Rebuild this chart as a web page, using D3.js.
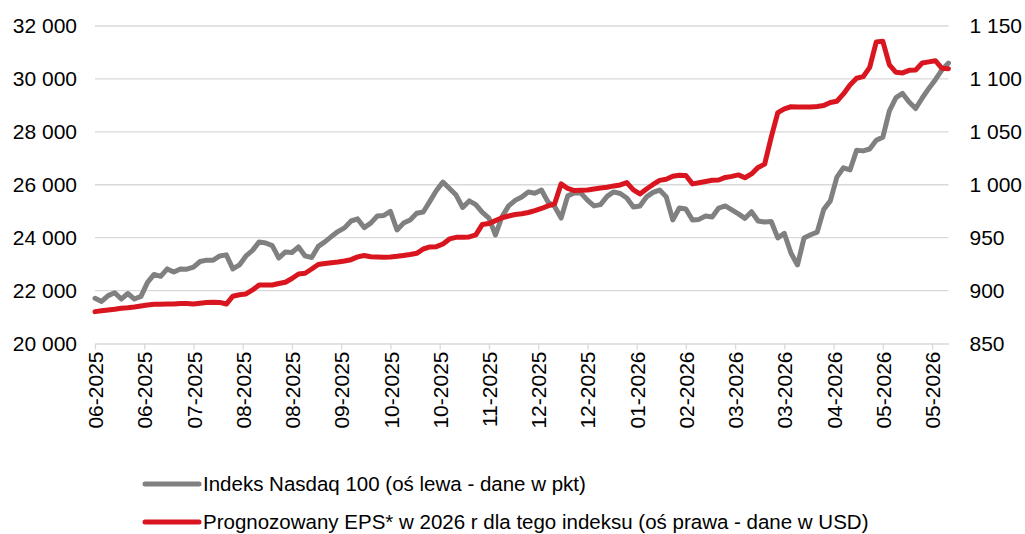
<!DOCTYPE html>
<html>
<head>
<meta charset="utf-8">
<script src="https://cdn.jsdelivr.net/npm/d3@7"></script>
<style>
    body { margin: 0; background: #fff; }
    svg { display: block; font-family: "Liberation Sans", Arial, sans-serif; }
</style>
</head>
<body>
<div id="chart"></div>
<script>
// Category axis labels (one every 15 sessions)
const tickLabels = [
    '06-2025', '06-2025', '07-2025', '08-2025', '08-2025', '09-2025',
    '10-2025', '10-2025', '11-2025', '12-2025', '12-2025', '01-2026',
    '02-2026', '03-2026', '03-2026', '04-2026', '05-2026', '05-2026'
];
const TICK_EVERY = 15;   // sessions between labels
const STEP = 2;          // sessions between stored values
const SESSIONS = 260;

// Nasdaq 100 index (left axis, pts), one value every 2 sessions
const nasdaq = [
    21710, 21590, 21810, 21920, 21680, 21890, 21680, 21780, 22310, 22610,
    22540, 22820, 22700, 22820, 22810, 22890, 23100, 23150, 23150, 23310,
    23350, 22820, 22970, 23310, 23520, 23840, 23800, 23700, 23230, 23460,
    23440, 23650, 23310, 23250, 23670, 23840, 24040, 24230, 24370, 24630,
    24710, 24380, 24550, 24820, 24840, 24990, 24290, 24550, 24670, 24920,
    24970, 25370, 25780, 26100, 25860, 25610, 25140, 25390, 25250, 24960,
    24740, 24100, 24800, 25200, 25410, 25540, 25730, 25680, 25800, 25350,
    25180, 24740, 25580, 25690, 25690, 25420, 25200, 25250, 25560, 25730,
    25670, 25500, 25160, 25200, 25540, 25710, 25800, 25550, 24670, 25120,
    25080, 24670, 24690, 24820, 24780, 25120, 25200, 25050, 24900, 24730,
    24980, 24630, 24590, 24610, 23990, 24160, 23420, 22970, 23990, 24110,
    24210, 25070, 25390, 26290, 26640, 26560, 27300, 27280, 27350, 27680,
    27800, 28790, 29290, 29450, 29130, 28880, 29280, 29640, 29970, 30340, 30600
];

// Forecast 2026 EPS (right axis, USD), same sampling
const eps = [
    880.1, 880.9, 881.7, 882.4, 883.3, 883.8, 884.5, 885.4, 886.4, 887.0,
    887.2, 887.3, 887.4, 887.7, 887.9, 887.4, 888.0, 888.7, 889.0, 888.8,
    887.3, 894.7, 896.1, 896.8, 900.6, 905.3, 905.3, 905.3, 906.7, 907.9,
    911.4, 915.7, 916.4, 920.4, 924.7, 925.6, 926.3, 927.0, 928.0, 929.2,
    931.8, 933.2, 932.0, 931.8, 931.6, 931.8, 932.4, 933.2, 934.1, 935.2,
    939.3, 941.2, 941.5, 944.0, 948.8, 950.3, 950.4, 950.7, 952.6, 962.5,
    963.4, 966.1, 968.8, 970.5, 971.9, 972.6, 973.8, 975.6, 977.6, 980.0,
    981.9, 1000.8, 996.5, 994.5, 994.8, 995.1, 996.0, 997.0, 997.6, 998.9,
    999.8, 1002.0, 995.1, 991.3, 996.0, 1000.3, 1004.1, 1005.2, 1008.0, 1008.9,
    1008.8, 1000.8, 1001.9, 1003.1, 1004.3, 1004.5, 1006.9, 1007.9, 1009.3, 1006.6,
    1010.2, 1016.4, 1019.5, 1045.0, 1068.1, 1071.7, 1073.7, 1073.5, 1073.4, 1073.5,
    1074.0, 1074.8, 1077.7, 1078.9, 1085.8, 1094.3, 1100.6, 1102.1, 1110.9, 1135.0,
    1135.5, 1113.2, 1106.2, 1105.7, 1108.1, 1108.5, 1115.1, 1116.1, 1117.2, 1110.0, 1109.7
];

const leftTicks = [20000, 22000, 24000, 26000, 28000, 30000, 32000];
const rightTicks = [850, 900, 950, 1000, 1050, 1100, 1150];

const legendItems = [
    { label: 'Indeks Nasdaq 100 (oś lewa - dane w pkt)', color: '#808080' },
    { label: 'Prognozowany EPS* w 2026 r dla tego indeksu (oś prawa - dane w USD)', color: '#d9161f' }
];

const W = 1025, H = 534;
const plot = { left: 95, right: 948.5, top: 26, bottom: 343.5 };

const fmt = d3.formatLocale({ decimal: ',', thousands: ' ', grouping: [3], currency: ['', ''] }).format(',');

const svg = d3.select('#chart').append('svg')
    .attr('width', W)
    .attr('height', H);

const x = d3.scaleLinear().domain([0, SESSIONS]).range([plot.left, plot.right]);
const yLeft = d3.scaleLinear().domain([20000, 32000]).range([plot.bottom, plot.top]);
const yRight = d3.scaleLinear().domain([850, 1150]).range([plot.bottom, plot.top]);

// Horizontal gridlines
svg.append('g')
    .selectAll('line')
    .data(leftTicks.slice(1))
    .enter()
    .append('line')
    .attr('x1', plot.left)
    .attr('x2', plot.right)
    .attr('y1', d => yLeft(d))
    .attr('y2', d => yLeft(d))
    .attr('stroke', '#d9d9d9')
    .attr('stroke-width', 1.3);

// Bottom axis with tick marks and rotated labels
const tickIdx = tickLabels.map((d, i) => i * TICK_EVERY);
const xAxis = svg.append('g')
    .attr('transform', `translate(0,${plot.bottom})`)
    .call(d3.axisBottom(x)
        .tickValues(tickIdx)
        .tickSize(6)
        .tickSizeOuter(0)
        .tickFormat((d, i) => tickLabels[i]));
xAxis.select('.domain').attr('stroke', '#d9d9d9').attr('stroke-width', 1.3);
xAxis.selectAll('.tick line').attr('stroke', '#d9d9d9').attr('stroke-width', 1.3);
xAxis.selectAll('.tick text')
    .attr('font-size', 21)
    .attr('fill', '#000')
    .attr('text-anchor', 'end')
    .attr('transform', 'rotate(-90)')
    .attr('x', -8)
    .attr('y', 0)
    .attr('dy', '0.36em');

// Left axis labels
const leftAxis = svg.append('g')
    .attr('transform', `translate(${plot.left - 18},0)`)
    .call(d3.axisLeft(yLeft).tickValues(leftTicks).tickSize(0).tickFormat(fmt));
leftAxis.select('.domain').remove();
leftAxis.selectAll('text').attr('font-size', 21).attr('fill', '#000').attr('x', 0);

// Right axis labels
const rightAxis = svg.append('g')
    .attr('transform', `translate(${plot.right + 21},0)`)
    .call(d3.axisRight(yRight).tickValues(rightTicks).tickSize(0).tickFormat(fmt));
rightAxis.select('.domain').remove();
rightAxis.selectAll('text').attr('font-size', 21).attr('fill', '#000').attr('x', 0);

// Lines
const lineLeft = d3.line()
    .x((d, i) => x(i * STEP))
    .y(d => yLeft(d));
const lineRight = d3.line()
    .x((d, i) => x(i * STEP))
    .y(d => yRight(d));

svg.append('path')
    .datum(nasdaq)
    .attr('d', lineLeft)
    .attr('fill', 'none')
    .attr('stroke', legendItems[0].color)
    .attr('stroke-width', 5)
    .attr('stroke-linejoin', 'round')
    .attr('stroke-linecap', 'round');

svg.append('path')
    .datum(eps)
    .attr('d', lineRight)
    .attr('fill', 'none')
    .attr('stroke', legendItems[1].color)
    .attr('stroke-width', 5)
    .attr('stroke-linejoin', 'round')
    .attr('stroke-linecap', 'round');

// Legend
const legend = svg.append('g');
legendItems.forEach((item, i) => {
    const ly = 484 + i * 38;
    legend.append('line')
        .attr('x1', 145)
        .attr('x2', 199)
        .attr('y1', ly)
        .attr('y2', ly)
        .attr('stroke', item.color)
        .attr('stroke-width', 5)
        .attr('stroke-linecap', 'round');
    legend.append('text')
        .attr('x', 203)
        .attr('y', ly)
        .attr('dy', '0.36em')
        .attr('font-size', 20.5)
        .text(item.label);
});
</script>
</body>
</html>
